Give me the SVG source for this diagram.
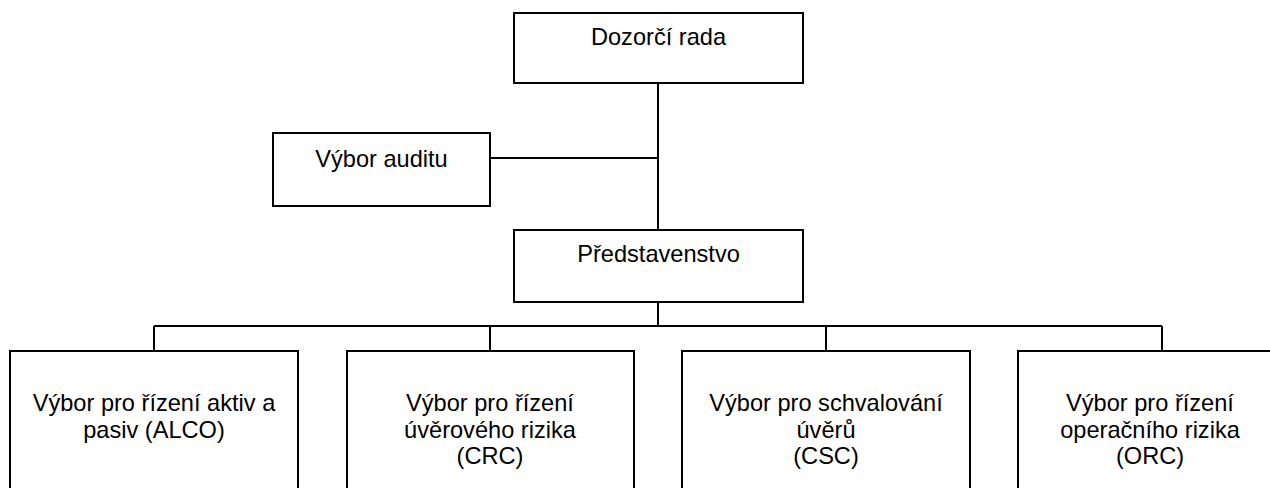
<svg xmlns="http://www.w3.org/2000/svg" width="1270" height="488" viewBox="0 0 1270 488">
<style>
.box{fill:#fff;stroke:#000;stroke-width:2}
.ln{fill:none;stroke:#000;stroke-width:2}
text{font-family:"Liberation Sans",Arial,sans-serif;font-size:23.6px;fill:#000;text-anchor:middle}
</style>
<rect width="1270" height="488" fill="#fff"/>
<g id="connectors">
<path class="ln" d="M658 83V230"/>
<path class="ln" d="M490 158H658"/>
<path class="ln" d="M658 302V326"/>
<path class="ln" d="M154 326H1162"/>
<path class="ln" d="M154 326V351M490 326V351M826 326V351M1162 326V351"/>
</g>
<g id="dozorci-rada">
<rect class="box" x="514" y="13" width="289" height="70"/>
<text x="658.5" y="45">Dozorčí rada</text>
</g>
<g id="vybor-auditu">
<rect class="box" x="273" y="133" width="217" height="73"/>
<text x="381.5" y="167">Výbor auditu</text>
</g>
<g id="predstavenstvo">
<rect class="box" x="514" y="230" width="289" height="72"/>
<text x="658.5" y="262">Představenstvo</text>
</g>
<g id="alco">
<rect class="box" x="10" y="351" width="288" height="160"/>
<text x="154" y="411">Výbor pro řízení aktiv a</text>
<text x="154" y="437.5">pasiv (ALCO)</text>
</g>
<g id="crc">
<rect class="box" x="347" y="351" width="287" height="160"/>
<text x="490" y="411">Výbor pro řízení</text>
<text x="490" y="437.5">úvěrového rizika</text>
<text x="490" y="464">(CRC)</text>
</g>
<g id="csc">
<rect class="box" x="682" y="351" width="288" height="160"/>
<text x="826" y="411">Výbor pro schvalování</text>
<text x="826" y="437.5">úvěrů</text>
<text x="826" y="464">(CSC)</text>
</g>
<g id="orc">
<rect class="box" x="1018" y="351" width="264" height="160"/>
<text x="1150" y="411">Výbor pro řízení</text>
<text x="1150" y="437.5">operačního rizika</text>
<text x="1150" y="464">(ORC)</text>
</g>
</svg>
